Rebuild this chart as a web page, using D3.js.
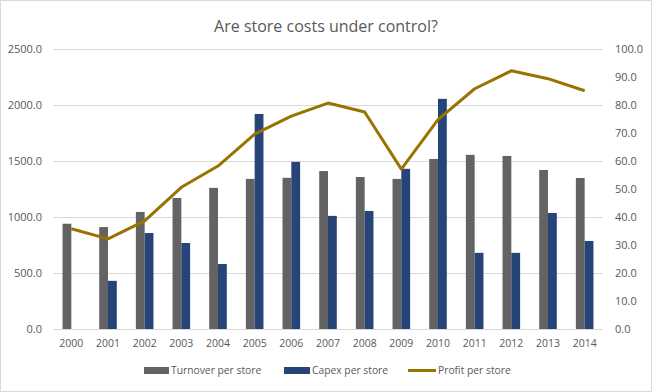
<!DOCTYPE html>
<html><head><meta charset="utf-8">
<script src="https://cdn.jsdelivr.net/npm/d3@7"></script>
<style>body{margin:0;background:#fff}svg{display:block}text{font-family:"Open Sans","Liberation Sans",sans-serif}</style>
</head><body>
<script>
const years = ["2000","2001","2002","2003","2004","2005","2006","2007","2008","2009","2010","2011","2012","2013","2014"];
const turnover = [940,910,1045,1170,1260,1340,1350,1410,1357,1340,1518,1555,1545,1420,1348];
const capex = [0,430,857,768,580,1920,1492,1010,1054,1430,2055,680,680,1036,786];
const profit = [35.8,32.2,38.6,50.6,58.2,69.6,76.0,80.7,77.5,57.1,74.8,85.8,92.2,89.4,85.1];
const leftTicks = [0,500,1000,1500,2000,2500];
const rightTicks = [0,10,20,30,40,50,60,70,80,90,100];
const seriesNames = ["Turnover per store","Capex per store","Profit per store"];

const W=652,H=392;
const svg=d3.select("body").append("svg").attr("width",W).attr("height",H);
svg.append("rect").attr("x",0.5).attr("y",0.5).attr("width",W-1).attr("height",H-1).attr("fill","#fff").attr("stroke","#d9d9d9");
const x=d3.scaleBand().domain(years).range([53,603]);
const yL=d3.scaleLinear().domain([0,2500]).range([329,49]);
const yR=d3.scaleLinear().domain([0,100]).range([329,49]);
const bw=8.8;
svg.append("g").selectAll("line").data(leftTicks).join("line")
 .attr("x1",53).attr("x2",603).attr("y1",d=>yL(d)+0.5).attr("y2",d=>yL(d)+0.5)
 .attr("stroke","#d9d9d9").attr("stroke-width",1);
svg.append("g").selectAll("text").data(leftTicks).join("text")
 .attr("x",42).attr("y",d=>yL(d)+4).attr("text-anchor","end").attr("font-size",11).attr("fill","#595959")
 .text(d=>d.toFixed(1));
svg.append("g").selectAll("text").data(rightTicks).join("text")
 .attr("x",615).attr("y",d=>yR(d)+4).attr("text-anchor","start").attr("font-size",11).attr("fill","#595959")
 .text(d=>d.toFixed(1));
const cx=d=>x(d)+x.bandwidth()/2;
svg.append("g").selectAll("rect").data(years).join("rect")
 .attr("x",d=>cx(d)-bw).attr("width",bw).attr("y",(d,i)=>yL(turnover[i])).attr("height",(d,i)=>yL(0)-yL(turnover[i])).attr("fill","#636363");
svg.append("g").selectAll("rect").data(years).join("rect")
 .attr("x",d=>cx(d)).attr("width",bw).attr("y",(d,i)=>yL(capex[i])).attr("height",(d,i)=>yL(0)-yL(capex[i])).attr("fill","#264478");
svg.append("path").datum(years).attr("fill","none").attr("stroke","#997300").attr("stroke-width",3).attr("stroke-linejoin","round")
 .attr("d",d3.line().x(d=>cx(d)).y((d,i)=>yR(profit[i])));
svg.append("g").selectAll("text").data(years).join("text")
 .attr("x",d=>cx(d)).attr("y",347).attr("text-anchor","middle").attr("font-size",10.5).attr("fill","#595959").text(d=>d);
svg.append("text").attr("x",326).attr("y",32).attr("text-anchor","middle").attr("font-size",16).attr("fill","#595959").text("Are store costs under control?");
const lg=svg.append("g");
lg.append("rect").attr("x",144).attr("y",367).attr("width",25).attr("height",7).attr("fill","#636363");
lg.append("text").attr("x",171).attr("y",374).attr("font-size",10.3).attr("fill","#595959").text(seriesNames[0]);
lg.append("rect").attr("x",284).attr("y",367).attr("width",26).attr("height",7).attr("fill","#264478");
lg.append("text").attr("x",312).attr("y",374).attr("font-size",10.3).attr("fill","#595959").text(seriesNames[1]);
lg.append("line").attr("x1",408).attr("x2",436).attr("y1",370.5).attr("y2",370.5).attr("stroke","#997300").attr("stroke-width",3);
lg.append("text").attr("x",438).attr("y",374).attr("font-size",10.3).attr("fill","#595959").text(seriesNames[2]);
</script>
</body></html>
